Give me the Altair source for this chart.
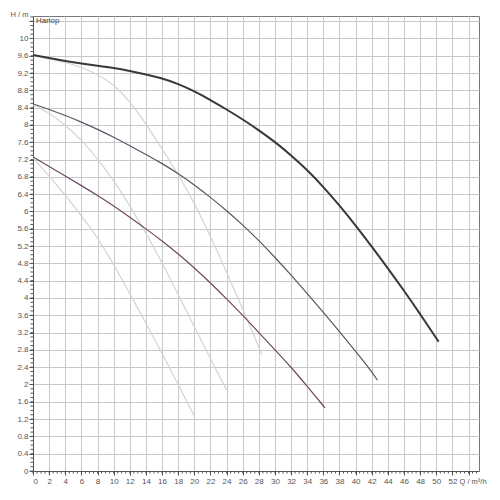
import altair as alt
import pandas as pd

# ---- pump curves (Q in m³/h, H in m) ----
Q_A = [0, 2, 4, 6, 8, 10, 12, 14, 16, 18, 20, 22, 24, 26, 28, 30, 32, 34, 36, 38, 40, 42, 44, 46, 48, 50, 50.3]
H_A = [9.62, 9.55, 9.48, 9.42, 9.37, 9.32, 9.25, 9.17, 9.08, 8.95, 8.78, 8.58, 8.36, 8.13, 7.88, 7.61, 7.3, 6.96, 6.57, 6.14, 5.68, 5.19, 4.69, 4.17, 3.63, 3.07, 2.99]

Q_B = [0, 2, 4, 6, 8, 10, 12, 14, 16, 18, 20, 22, 24, 26, 28, 30, 32, 34, 36, 38, 40, 42, 42.7]
H_B = [8.49, 8.36, 8.22, 8.07, 7.9, 7.72, 7.52, 7.32, 7.11, 6.88, 6.62, 6.33, 6.02, 5.69, 5.33, 4.94, 4.53, 4.1, 3.67, 3.22, 2.77, 2.3, 2.1]

Q_C = [0, 2, 4, 6, 8, 10, 12, 14, 16, 18, 20, 22, 24, 26, 28, 30, 32, 34, 36.2]
H_C = [7.26, 7.04, 6.82, 6.6, 6.37, 6.13, 5.87, 5.6, 5.32, 5.02, 4.7, 4.35, 3.98, 3.6, 3.2, 2.8, 2.4, 1.96, 1.46]

Q_D = [0, 2, 4, 6, 8, 10, 12, 14, 16, 18, 20, 22, 24, 26, 28, 28.4]
H_D = [9.61, 9.53, 9.45, 9.34, 9.17, 8.94, 8.55, 8.03, 7.45, 6.86, 6.2, 5.43, 4.6, 3.75, 2.87, 2.68]

Q_E = [0, 2, 4, 6, 8, 10, 12, 14, 16, 18, 20, 22, 24]
H_E = [8.47, 8.28, 8.0, 7.66, 7.22, 6.72, 6.14, 5.5, 4.82, 4.08, 3.34, 2.6, 1.87]

Q_F = [0, 2, 4, 6, 8, 10, 12, 14, 16, 18, 20]
H_F = [7.24, 6.82, 6.38, 5.9, 5.4, 4.78, 4.1, 3.42, 2.72, 2.0, 1.27]

# ---- axis ticks ----
X_TICKS = [0, 2, 4, 6, 8, 10, 12, 14, 16, 18, 20, 22, 24, 26, 28, 30, 32, 34, 36,
           38, 40, 42, 44, 46, 48, 50, 52, 54]
Y_TICKS = [0, 0.4, 0.8, 1.2, 1.6, 2, 2.4, 2.8, 3.2, 3.6, 4, 4.4, 4.8, 5.2, 5.6, 6,
           6.4, 6.8, 7.2, 7.6, 8, 8.4, 8.8, 9.2, 9.6, 10, 10.4]
MINOR_X = [i * 0.5 for i in range(0, 111)]
MINOR_Y = [round(i * 0.1, 2) for i in range(0, 106)]

X_TITLE = "Q / m³/h"
Y_TITLE = "H / m"
CORNER_LABEL = ["Напор"]


def frame(name, q, h):
    return pd.DataFrame({"series": name, "Q": q, "H": h})


light = pd.concat([frame("D", Q_D, H_D), frame("E", Q_E, H_E), frame("F", Q_F, H_F)])
curve_a = frame("A", Q_A, H_A)
curve_b = frame("B", Q_B, H_B)
curve_c = frame("C", Q_C, H_C)

xs = alt.Scale(domain=[0, 55.3], nice=False, zero=False)
ys = alt.Scale(domain=[0, 10.52], nice=False, zero=False)

FONT = "Liberation Sans"
x_axis = alt.Axis(
    values=X_TICKS, labelExpr="datum.value > 53 ? '' : datum.label",
    grid=True, gridColor="#c8c8c8", gridWidth=1,
    tickSize=4, tickColor="#555", domainColor="#555",
    labelFont=FONT, labelFontSize=8, labelColor="#555", labelPadding=2,
    title=X_TITLE, titleFont=FONT, titleFontSize=7.5, titleFontWeight="normal",
    titleColor="#555", titleX=426, titleY=6, titleAlign="left", titleBaseline="top",
)
y_axis = alt.Axis(
    values=Y_TICKS, format=".1~f", labelExpr="datum.value > 10.2 ? '' : datum.label",
    grid=True, gridColor="#c8c8c8", gridWidth=1,
    tickSize=4, tickColor="#555", domainColor="#555",
    labelFont=FONT, labelFontSize=8, labelColor="#555", labelPadding=1,
    title=Y_TITLE, titleFont=FONT, titleFontSize=7.5, titleFontWeight="normal",
    titleColor="#555", titleAngle=0, titleX=-5, titleY=-2, titleAlign="right",
    titleBaseline="middle",
)


def xenc(field):
    return alt.X(field, scale=xs, axis=x_axis)


def yenc(field):
    return alt.Y(field, scale=ys, axis=y_axis)


base_light = alt.Chart(light).mark_line(
    interpolate="basis", color="#d4d4d4", strokeWidth=1.2
).encode(x=xenc("Q:Q"), y=yenc("H:Q"), detail="series:N")

line_b = alt.Chart(curve_b).mark_line(
    interpolate="basis", color="#5a5566", strokeWidth=1.2
).encode(x=xenc("Q:Q"), y=yenc("H:Q"))

line_c = alt.Chart(curve_c).mark_line(
    interpolate="basis", color="#6e4863", strokeWidth=1.2
).encode(x=xenc("Q:Q"), y=yenc("H:Q"))

line_a = alt.Chart(curve_a).mark_line(
    interpolate="basis", color="#383838", strokeWidth=2
).encode(x=xenc("Q:Q"), y=yenc("H:Q"))

minor_y = alt.Chart(pd.DataFrame({"H": MINOR_Y})).mark_rule(
    color="#555", strokeWidth=1
).encode(y=yenc("H:Q"), x=alt.value(0), x2=alt.value(-2.5))

minor_x = alt.Chart(pd.DataFrame({"Q": MINOR_X})).mark_rule(
    color="#555", strokeWidth=1
).encode(x=xenc("Q:Q"), y=alt.value(455), y2=alt.value(457.5))

corner = alt.Chart(pd.DataFrame({"label": CORNER_LABEL})).mark_text(
    align="left", baseline="middle", font=FONT, fontSize=8, color="#444"
).encode(x=alt.value(3), y=alt.value(4.5), text="label:N")

chart = alt.layer(
    base_light, line_b, line_c, line_a, minor_y, minor_x, corner
).properties(
    width=446, height=455,
    padding={"left": 25, "top": 8, "right": 13, "bottom": 22},
    autosize=alt.AutoSizeParams(type="none"),
).configure_view(stroke="#777", strokeWidth=1)

chart.save("out.html", embed_options={"renderer": "svg", "actions": False})
